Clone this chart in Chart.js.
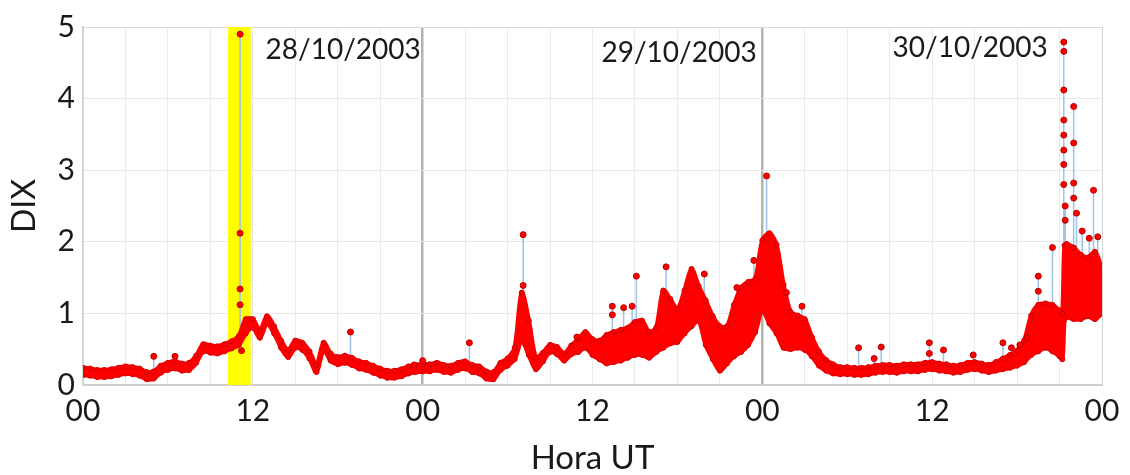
<!DOCTYPE html>
<html>
<head>
<meta charset="utf-8">
<script src="https://cdn.jsdelivr.net/npm/chart.js@4.4.1/dist/chart.umd.min.js"></script>
<style>
  html, body { margin: 0; padding: 0; background: #fff; }
  #wrap { width: 1130px; height: 475px; }
</style>
</head>
<body>
<div id="wrap"><canvas id="chartDix"></canvas></div>
<script>
// DIX, 28-30/10/2003, hours counted from 00 UT on the 28th
const bandHours = [
  0, 0.5, 1, 1.5, 2, 2.5, 3, 3.5, 4, 4.5, 5, 5.5, 6, 6.5, 7, 7.5, 8, 8.5, 9, 9.5,
  10, 10.5, 11, 11.5, 12, 12.5, 13, 13.5, 14, 14.5, 15, 15.5, 16, 16.5, 17, 17.5, 18, 18.5, 19, 19.5,
  20, 20.5, 21, 21.5, 22, 22.5, 23, 23.5, 24, 24.5, 25, 25.5, 26, 26.5, 27, 27.5, 28, 28.5, 29, 29.5,
  30, 30.5, 31, 31.5, 32, 32.5, 33, 33.5, 34, 34.5, 35, 35.5, 36, 36.5, 37, 37.5, 38, 38.5, 39, 39.5,
  40, 40.5, 41, 41.5, 42, 42.5, 43, 43.5, 44, 44.5, 45, 45.5, 46, 46.5, 47, 47.5, 48, 48.5, 49, 49.5,
  50, 50.5, 51, 51.5, 52, 52.5, 53, 53.5, 54, 54.5, 55, 55.5, 56, 56.5, 57, 57.5, 58, 58.5, 59, 59.5,
  60, 60.5, 61, 61.5, 62, 62.5, 63, 63.5, 64, 64.5, 65, 65.5, 66, 66.5, 67, 67.5, 68, 68.5, 69, 69.2,
  69.35, 69.5, 70, 70.5, 71, 71.5, 72
];
// lower / upper edge of the dense band of 1-min values
const bandLow = [
  0.14, 0.13, 0.11, 0.11, 0.12, 0.14, 0.16, 0.15, 0.13, 0.08, 0.09, 0.17, 0.21, 0.23, 0.20, 0.21, 0.31, 0.47, 0.45, 0.44,
  0.47, 0.51, 0.56, 0.72, 0.80, 0.66, 0.86, 0.72, 0.52, 0.39, 0.52, 0.49, 0.37, 0.18, 0.49, 0.34, 0.29, 0.31, 0.28, 0.23,
  0.21, 0.17, 0.13, 0.10, 0.10, 0.12, 0.16, 0.18, 0.19, 0.19, 0.21, 0.18, 0.17, 0.21, 0.23, 0.18, 0.16, 0.09, 0.08, 0.21,
  0.27, 0.36, 0.62, 0.42, 0.22, 0.33, 0.46, 0.43, 0.34, 0.43, 0.46, 0.52, 0.42, 0.36, 0.30, 0.32, 0.34, 0.38, 0.42, 0.42,
  0.38, 0.46, 0.52, 0.58, 0.60, 0.72, 0.82, 0.90, 0.56, 0.36, 0.20, 0.30, 0.40, 0.46, 0.56, 0.74, 1.05, 0.86, 0.72, 0.52,
  0.50, 0.52, 0.49, 0.40, 0.27, 0.20, 0.16, 0.15, 0.15, 0.14, 0.14, 0.15, 0.17, 0.18, 0.18, 0.17, 0.19, 0.19, 0.19, 0.21,
  0.22, 0.20, 0.19, 0.17, 0.18, 0.21, 0.22, 0.20, 0.18, 0.20, 0.22, 0.24, 0.27, 0.32, 0.42, 0.47, 0.52, 0.47, 0.40, 0.36,
  0.92, 0.95, 0.92, 0.92, 0.96, 0.92, 1.00
];
const bandHigh = [
  0.24, 0.23, 0.21, 0.21, 0.22, 0.24, 0.26, 0.25, 0.23, 0.18, 0.19, 0.27, 0.31, 0.33, 0.30, 0.31, 0.41, 0.57, 0.55, 0.54,
  0.57, 0.61, 0.68, 0.92, 0.92, 0.76, 0.96, 0.82, 0.62, 0.49, 0.62, 0.59, 0.47, 0.28, 0.59, 0.44, 0.39, 0.41, 0.38, 0.33,
  0.31, 0.27, 0.23, 0.20, 0.20, 0.22, 0.26, 0.28, 0.29, 0.29, 0.31, 0.28, 0.27, 0.31, 0.33, 0.28, 0.26, 0.19, 0.18, 0.31,
  0.37, 0.52, 1.29, 0.90, 0.38, 0.45, 0.56, 0.53, 0.44, 0.55, 0.64, 0.74, 0.64, 0.62, 0.70, 0.74, 0.77, 0.80, 0.88, 0.90,
  0.74, 0.80, 1.32, 1.20, 1.06, 1.32, 1.62, 1.38, 1.18, 0.96, 0.82, 0.82, 1.12, 1.36, 1.44, 1.48, 2.02, 2.12, 1.96, 1.40,
  1.02, 0.97, 0.92, 0.67, 0.47, 0.35, 0.29, 0.25, 0.25, 0.24, 0.24, 0.25, 0.27, 0.28, 0.28, 0.27, 0.29, 0.29, 0.29, 0.31,
  0.32, 0.30, 0.29, 0.27, 0.28, 0.31, 0.32, 0.30, 0.28, 0.32, 0.37, 0.42, 0.48, 0.62, 0.97, 1.12, 1.14, 1.12, 1.04, 1.00,
  1.95, 1.97, 1.92, 1.82, 1.78, 1.86, 1.62
];
// isolated values standing out of the band
const spikeHours = [
  5.0, 6.5, 11.1, 11.1, 11.1, 11.1, 11.2, 18.9, 23.4, 24.0, 27.3, 31.1, 31.1, 34.9, 37.4, 37.4, 38.2, 38.8, 39.1, 41.2,
  43.9, 46.2, 47.4, 48.3, 49.7, 50.8, 54.8, 55.9, 56.4, 59.8, 59.8, 60.8, 62.9, 65.0, 65.6, 66.2, 66.7, 67.5, 67.5, 68.5,
  69.3, 69.3, 69.3, 69.3, 69.3, 69.3, 69.3, 69.3, 69.4, 69.4, 70.0, 70.0, 70.0, 70.0, 70.2, 70.6, 71.1, 71.4, 71.7
];
const spikeValues = [
  0.40, 0.40, 4.90, 2.12, 1.34, 1.12, 0.48, 0.74, 0.28, 0.34, 0.59, 2.10, 1.39, 0.67, 1.10, 0.98, 1.08, 1.10, 1.52, 1.65,
  1.55, 1.36, 1.74, 2.92, 1.29, 1.10, 0.52, 0.37, 0.53, 0.59, 0.44, 0.49, 0.42, 0.59, 0.52, 0.56, 0.66, 1.52, 1.31, 1.92,
  4.79, 4.66, 4.12, 3.70, 3.49, 3.28, 3.08, 2.80, 2.50, 2.30, 3.89, 3.38, 2.82, 2.61, 2.40, 2.15, 2.05, 2.72, 2.07
];

const flareWindow = [10.25, 11.85];
const dayLines = [24, 48];
const dayLabels = ["28/10/2003", "29/10/2003", "30/10/2003"];
const dayLabelHours = [12.9, 47.6, 57.2];
const dayLabelLevels = [4.68, 4.64, 4.71];
const dayLabelAlign = ["left", "right", "left"];

const textColor = "#1a1a1a";
const fontFamily = "Lato, 'Open Sans', sans-serif";

function bandTopNear(h) {
  let i = bandHours.findIndex((t) => t >= h);
  if (i < 0) i = bandHours.length - 1;
  if (i === 0) i = 1;
  return Math.min(bandHigh[i - 1], bandHigh[i]) - 0.03;
}

const lowerPts = bandHours.map((h, i) => ({ x: h, y: bandLow[i] }));
const upperPts = bandHours.map((h, i) => ({ x: h, y: bandHigh[i] }));
const spikePts = spikeHours.map((h, i) => ({ x: h, y: spikeValues[i] }));
const stemPts = [];
spikeHours.forEach((h, i) => {
  stemPts.push({ x: h, y: bandTopNear(h) }, { x: h, y: spikeValues[i] }, { x: h, y: null });
});

const flareBand = {
  id: "flareBand",
  beforeDatasetsDraw(chart) {
    const { ctx, chartArea, scales } = chart;
    const x1 = scales.x.getPixelForValue(flareWindow[0]);
    const x2 = scales.x.getPixelForValue(flareWindow[1]);
    ctx.save();
    ctx.fillStyle = "#ffff00";
    ctx.fillRect(x1, chartArea.top, x2 - x1, chartArea.bottom - chartArea.top);
    ctx.restore();
  },
};

const dateText = {
  id: "dateText",
  afterDatasetsDraw(chart) {
    const { ctx, scales } = chart;
    ctx.save();
    ctx.font = "28px " + fontFamily;
    ctx.fillStyle = textColor;
    ctx.textBaseline = "middle";
    dayLabels.forEach((txt, i) => {
      ctx.textAlign = dayLabelAlign[i];
      ctx.fillText(txt, scales.x.getPixelForValue(dayLabelHours[i]), scales.y.getPixelForValue(dayLabelLevels[i]));
    });
    ctx.restore();
  },
};

const dixChart = new Chart(document.getElementById("chartDix"), {
  type: "line",
  data: {
    datasets: [
      {
        label: "picos",
        data: spikePts,
        showLine: false,
        pointRadius: 3,
        pointBackgroundColor: "#ff0000",
        pointBorderColor: "#b80000",
        pointBorderWidth: 1,
        order: 0,
      },
      {
        label: "DIX min",
        data: lowerPts,
        borderColor: "#ff0000",
        borderWidth: 4.5,
        tension: 0.3,
        pointRadius: 2.5,
        pointBackgroundColor: "#ff0000",
        pointBorderColor: "#d00000",
        pointBorderWidth: 1,
        fill: false,
        order: 2,
      },
      {
        label: "DIX max",
        data: upperPts,
        borderColor: "#ff0000",
        borderWidth: 4.5,
        tension: 0.3,
        pointRadius: 2.5,
        pointBackgroundColor: "#ff0000",
        pointBorderColor: "#d00000",
        pointBorderWidth: 1,
        backgroundColor: "#ff0000",
        fill: "-1",
        order: 1,
      },
      {
        label: "DIX",
        data: stemPts,
        borderColor: "#9dc3e6",
        borderWidth: 1.5,
        pointRadius: 0,
        spanGaps: false,
        fill: false,
        order: 3,
      },
    ],
  },
  options: {
    responsive: true,
    maintainAspectRatio: false,
    animation: false,
    events: [],
    layout: { padding: { top: 27, right: 28, left: 0, bottom: 0 } },
    plugins: {
      legend: { display: false },
      tooltip: { enabled: false },
    },
    scales: {
      x: {
        type: "linear",
        min: 0,
        max: 72,
        afterFit: (s) => { s.height = 90; },
        ticks: {
          stepSize: 3,
          autoSkip: false,
          maxRotation: 0,
          padding: 8,
          color: textColor,
          font: { family: fontFamily, size: 30 },
          callback: (v) => (v % 24 === 0 ? "00" : v % 12 === 0 ? "12" : ""),
        },
        grid: {
          drawTicks: false,
          color: (c) => (dayLines.includes(c.tick.value) ? "#b3b3b3" : c.tick.value === 72 ? "#d6d6d6" : "#ebebeb"),
          lineWidth: (c) => (dayLines.includes(c.tick.value) ? 2.5 : 1),
        },
        border: { color: "#cfcfcf", width: 2 },
        title: {
          display: true,
          text: "Hora UT",
          color: textColor,
          font: { family: fontFamily, size: 33, lineHeight: 1 },
          padding: 0,
        },
      },
      y: {
        min: 0,
        max: 5,
        afterFit: (s) => { s.width = 83; },
        ticks: {
          stepSize: 1,
          padding: 8,
          color: textColor,
          font: { family: fontFamily, size: 30 },
        },
        grid: {
          drawTicks: false,
          color: (c) => (c.tick.value === 5 ? "#dadada" : "#e8e8e8"),
        },
        border: { color: "#d3d3d3", width: 2 },
        title: {
          display: true,
          text: "DIX",
          color: textColor,
          font: { family: fontFamily, size: 32, lineHeight: 1 },
          padding: { top: 9, bottom: 0 },
        },
      },
    },
  },
  plugins: [flareBand, dateText],
});
</script>
</body>
</html>
